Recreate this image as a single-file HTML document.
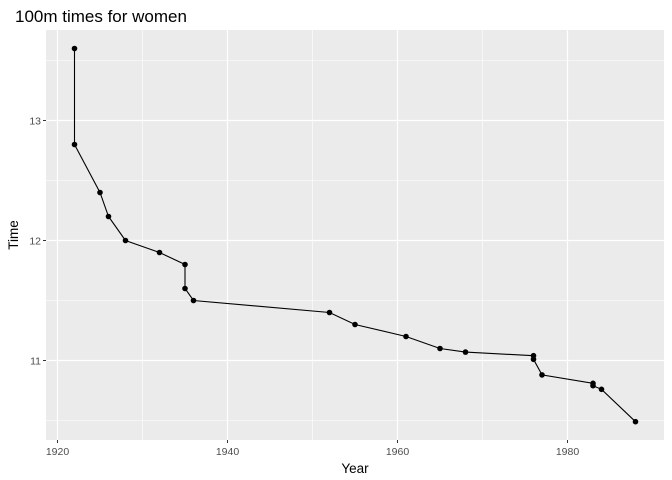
<!DOCTYPE html>
<html><head><meta charset="utf-8"><style>body{margin:0;background:#fff}svg{display:block;font-family:"Liberation Sans",sans-serif}</style></head>
<body>
<svg id="c" width="672" height="480"></svg>
<script>
const years=[1922,1922,1925,1926,1928,1932,1935,1935,1936,1952,1955,1961,1965,1968,1976,1976,1977,1983,1983,1984,1988];
const times=[13.6,12.8,12.4,12.2,12.0,11.9,11.8,11.6,11.5,11.4,11.3,11.2,11.1,11.07,11.04,11.01,10.88,10.81,10.79,10.76,10.49];
const xTicks=[1920,1940,1960,1980];
const xMinor=[1930,1950,1970];
const yTicks=[11,12,13];
const yMinor=[10.5,11.5,12.5,13.5];
const NS='http://www.w3.org/2000/svg';
const svg=document.getElementById('c');
const L=46,R=664,T=30,B=440;
const x=v=>57.5+(v-1920)*8.5;
const y=v=>120.5+(13-v)*120;
function mk(t,a,p){const e=document.createElementNS(NS,t);for(const k in a)e.setAttribute(k,a[k]);(p||svg).appendChild(e);return e;}
let e;
e=mk('rect',{x:L,y:T,width:R-L,height:B-T,fill:'#ebebeb'});


xMinor.forEach(v=>{e=mk('line',{x1:x(v),x2:x(v),y1:T,y2:B,stroke:'#fff','stroke-width':0.6});

});
yMinor.forEach(v=>{e=mk('line',{x1:L,x2:R,y1:y(v),y2:y(v),stroke:'#fff','stroke-width':0.6});

});
xTicks.forEach(v=>{e=mk('line',{x1:x(v),x2:x(v),y1:T,y2:B,stroke:'#fff','stroke-width':1.2});


e=mk('line',{x1:x(v),x2:x(v),y1:B,y2:B+3,stroke:'#333','stroke-width':1});


e=mk('text',{x:x(v),y:B+15,'text-anchor':'middle','font-size':10.5,fill:'#4d4d4d'});e.textContent=v;

});
yTicks.forEach(v=>{e=mk('line',{x1:L,x2:R,y1:y(v),y2:y(v),stroke:'#fff','stroke-width':1.2});


e=mk('line',{x1:L-3,x2:L,y1:y(v),y2:y(v),stroke:'#333','stroke-width':1});


e=mk('text',{x:L-5,y:y(v)+4,'text-anchor':'end','font-size':10.5,fill:'#4d4d4d'});e.textContent=v;

});
e=mk('polyline',{points:years.map((v,i)=>x(v)+','+y(times[i])).join(' '),fill:'none',stroke:'#000','stroke-width':1.1});


years.forEach((v,i)=>{e=mk('circle',{cx:x(v),cy:y(times[i]),r:2.8,fill:'#000'});

});
e=mk('text',{x:15,y:22,'font-size':17,fill:'#000'});e.textContent='100m times for women';


e=mk('text',{x:(L+R)/2,y:473,'text-anchor':'middle','font-size':13.5,fill:'#000'});e.textContent='Year';


e=mk('text',{x:0,y:0,'text-anchor':'middle','font-size':13.5,fill:'#000',transform:'translate(18,'+((T+B)/2)+') rotate(-90)'});e.textContent='Time';


</script>
</body></html>
